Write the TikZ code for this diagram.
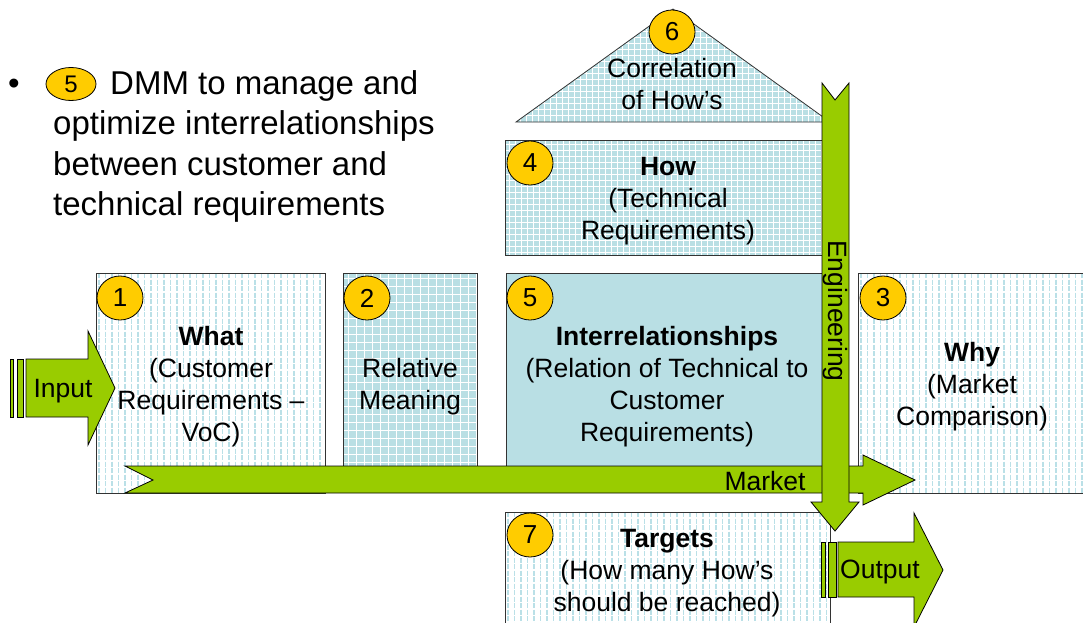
\documentclass[tikz,border=0pt]{standalone}
\usepackage{fontspec}
\setmainfont{Liberation Sans}
\usepackage{xcolor}
\usepackage{tikz}
\usetikzlibrary{shapes.geometric}

\definecolor{qgreen}{RGB}{153,204,0}
\definecolor{qblue}{RGB}{185,223,228}
\definecolor{qstripe}{RGB}{186,224,231}
\definecolor{qyellow}{RGB}{255,204,0}

\begin{document}
\begin{tikzpicture}[x=1pt,y=-1pt,
	num/.style={ellipse,draw=black,fill=qyellow,line width=0.8pt,minimum width=46pt,minimum height=44pt,inner sep=0pt,font=\fontsize{26}{26}\selectfont},
	lbl/.style={align=center,font=\fontsize{26.5}{32}\selectfont},
	big/.style={anchor=base west,inner sep=0pt,font=\fontsize{33}{40}\selectfont},
	frame/.style={draw=black!80,line width=0.8pt},
	blockarrow/.style={draw=black,fill=qgreen,line width=0.8pt},
	stripe/.style={qstripe,line width=1.4pt,dash pattern=on 5pt off 1.5pt},
	gridline/.style={white,line width=1pt}]
	\clip (0,0) rectangle (1083,623);
	\fill[white] (0,0) rectangle (1083,623);

	% bullet text
	\node[big] (dot) at (8,95) {•};
	\node[num,minimum width=50pt,minimum height=33pt,font=\fontsize{24}{24}\selectfont] (n5a) at (71,84) {5};
	\node[big] (dmm1) at (110,95) {DMM to manage and};
	\node[big] (dmm2) at (53,135) {optimize interrelationships};
	\node[big] (dmm3) at (53,175) {between customer and};
	\node[big] (dmm4) at (53,215) {technical requirements};

	% What
	\begin{scope}
		\clip (96,273) rectangle (325,493);
		\foreach \x in {99,105.5,...,325} \draw[stripe] (\x,273) -- (\x,493);
	\end{scope}
	\draw[frame] (96,273) rectangle (325,493);

	% Relative meaning
	\fill[qblue] (343,273) rectangle (477,466);
	\begin{scope}
		\clip (343,273) rectangle (477,466);
		\foreach \x in {348,356,...,477} \draw[gridline] (\x,273) -- (\x,466);
		\foreach \y in {278,286,...,466} \draw[gridline] (343,\y) -- (477,\y);
	\end{scope}
	\draw[frame] (343,273) rectangle (477,466);

	% Interrelationships
	\draw[frame,fill=qblue] (506,273) rectangle (830,466);

	% How
	\fill[qblue] (505,140) rectangle (830,255);
	\begin{scope}
		\clip (505,140) rectangle (830,255);
		\foreach \x in {509,515,...,830} \draw[gridline] (\x,140) -- (\x,255);
		\foreach \y in {144,150,...,255} \draw[gridline] (505,\y) -- (830,\y);
	\end{scope}
	\draw[frame] (505,140) rectangle (830,255);

	% roof
	\fill[qblue] (516,122) -- (673,9) -- (830,122) -- cycle;
	\begin{scope}
		\clip (516,122) -- (673,9) -- (830,122) -- cycle;
		\foreach \x in {520,526,...,830} \draw[gridline] (\x,9) -- (\x,122);
		\foreach \y in {14,20,...,122} \draw[gridline] (516,\y) -- (830,\y);
	\end{scope}
	\draw[frame] (516,122) -- (673,9) -- (830,122) -- cycle;

	% Why
	\begin{scope}
		\clip (858,273) rectangle (1090,493);
		\foreach \x in {861,867.5,...,1090} \draw[stripe] (\x,273) -- (\x,493);
	\end{scope}
	\draw[frame] (1090,273) -- (858,273) -- (858,493) -- (1090,493);

	% Targets
	\begin{scope}
		\clip (505,512) rectangle (830,630);
		\foreach \x in {508,514.5,...,830} \draw[stripe] (\x,512) -- (\x,630);
	\end{scope}
	\draw[frame] (505,630) -- (505,512) -- (830,512) -- (830,630);

	% arrows
	\draw[blockarrow] (10,359) rectangle (13,417);
	\draw[blockarrow] (17,359) rectangle (23,417);
	\draw[blockarrow] (26,359) -- (88,359) -- (88,331) -- (115,388) -- (88,445) -- (88,417) -- (26,417) -- cycle;
	\node[lbl] (input) at (63,391) {Input};

	\draw[blockarrow] (125,466) -- (863,466) -- (863,455) -- (915,480) -- (863,505) -- (863,493) -- (125,493) -- (153,480) -- cycle;
	\node[lbl] (market) at (765,481) {Market};

	\draw[blockarrow] (822,83) -- (835,100) -- (849,83) -- (849,502) -- (859,502) -- (835,531) -- (811,502) -- (822,502) -- cycle;
	\node[lbl,rotate=-90] (eng) at (835,311) {Engineering};

	\draw[blockarrow] (821,542) rectangle (825,597);
	\draw[blockarrow] (828,542) rectangle (836,597);
	\draw[blockarrow] (838,542) -- (914,542) -- (914,513) -- (943,570) -- (914,627) -- (914,597) -- (838,597) -- cycle;
	\node[lbl] (output) at (880,572) {Output};

	% numbers
	\node[num] (n1) at (120,298) {1};
	\node[num] (n2) at (367,298) {2};
	\node[num] (n5) at (530,298) {5};
	\node[num] (n3) at (883,298) {3};
	\node[num] (n4) at (530,163) {4};
	\node[num] (n6) at (672,32) {6};
	\node[num] (n7) at (530,535) {7};

	% labels
	\node[lbl] (what) at (211,387) {\textbf{What}\\(Customer\\Requirements –\\VoC)};
	\node[lbl] (relmean) at (410,387) {Relative\\Meaning};
	\node[lbl] (inter) at (667,387) {\textbf{Interrelationships}\\(Relation of Technical to\\Customer\\Requirements)};
	\node[lbl] (how) at (668,201) {\textbf{How}\\(Technical\\Requirements)};
	\node[lbl] (corr) at (672,84) {Correlation\\of How’s};
	\node[lbl] (why) at (972,387) {\textbf{Why}\\(Market\\Comparison)};
	\node[lbl] (targets) at (667,573) {\textbf{Targets}\\(How many How’s\\should be reached)};
\end{tikzpicture}
\end{document}
